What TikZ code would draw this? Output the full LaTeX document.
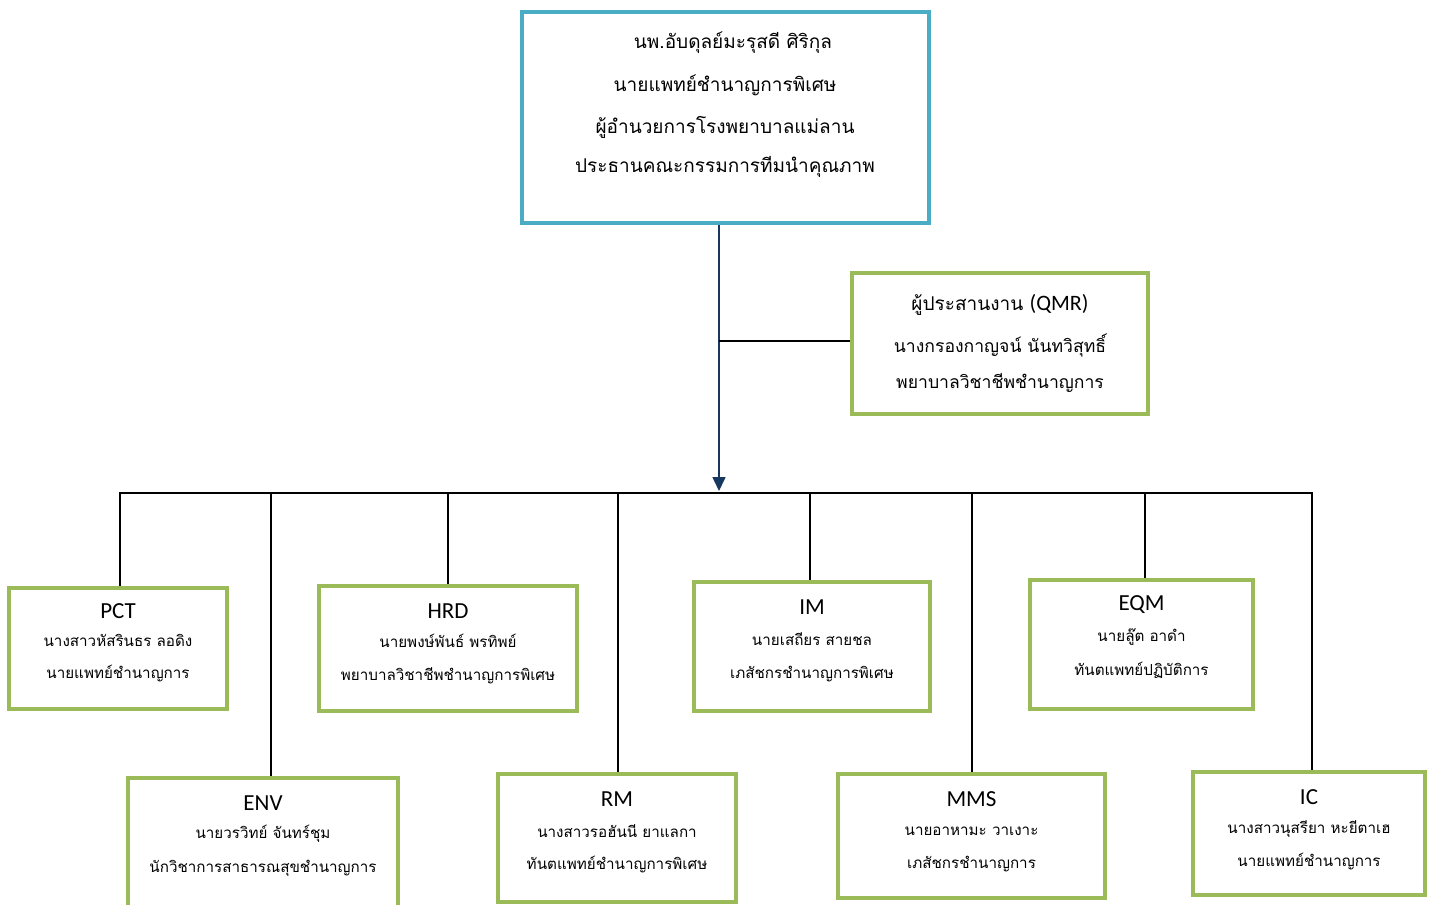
\documentclass[tikz,border=0pt]{standalone}
\usepackage{fontspec}
\usetikzlibrary{arrows.meta,calc}
\setmainfont{Carlito}
\newfontfamily\thai[Script=Thai]{Loma}
\definecolor{topblue}{HTML}{4BACC6}
\definecolor{boxgreen}{HTML}{9BBB59}
\definecolor{navy}{HTML}{17375E}
\begin{document}
\begin{tikzpicture}[x=1pt,y=-1pt,
  topbox/.style={draw=topblue,line width=4pt,fill=white,inner sep=0pt},
  gbox/.style={draw=boxgreen,line width=4pt,fill=white,inner sep=0pt},
  bigthai/.style={inner sep=0pt,font=\thai\fontsize{19}{23}\selectfont},
  midthai/.style={inner sep=0pt,font=\thai\fontsize{17.6}{21}\selectfont},
  smallthai/.style={inner sep=0pt,font=\thai\fontsize{15.2}{18}\selectfont},
  acr/.style={inner sep=0pt,font=\fontsize{23}{27}\selectfont},
  conn/.style={line width=1.6pt,black},
]
\useasboundingbox (0,0) rectangle (1433,905);
\fill[white] (0,0) rectangle (1433,905);

% boxes
\node[topbox,minimum width=407pt,minimum height=211pt] (top) at (725.5,117.5) {};
\node[gbox,minimum width=296pt,minimum height=141pt] (qmr) at (1000,343.5) {};
\node[gbox,minimum width=218pt,minimum height=121pt] (pct) at (118,648.5) {};
\node[gbox,minimum width=258pt,minimum height=125pt] (hrd) at (448,648.5) {};
\node[gbox,minimum width=236pt,minimum height=129pt] (im) at (812,646.5) {};
\node[gbox,minimum width=223pt,minimum height=129pt] (eqm) at (1141.5,644.5) {};
\node[gbox,minimum width=270pt,minimum height=132pt] (env) at (263,844) {};
\node[gbox,minimum width=238pt,minimum height=128pt] (rm) at (617,838) {};
\node[gbox,minimum width=267pt,minimum height=124pt] (mms) at (971.5,836) {};
\node[gbox,minimum width=232pt,minimum height=123pt] (ic) at (1309,833.5) {};

% top text
\node[bigthai] (t1) at (733,43) {นพ.อับดุลย์มะรุสดี ศิริกุล};
\node[bigthai] (t2) at (725,85) {นายแพทย์ชำนาญการพิเศษ};
\node[bigthai] (t3) at (725,127) {ผู้อำนวยการโรงพยาบาลแม่ลาน};
\node[bigthai] (t4) at (725,167) {ประธานคณะกรรมการทีมนำคุณภาพ};

% QMR text
\node[bigthai] (q1) at (1000,305) {ผู้ประสานงาน {\fontspec{Carlito}\fontsize{22}{26}\selectfont(QMR)}};
\node[midthai] (q2) at (1000,345) {นางกรองกาญจน์ นันทวิสุทธิ์};
\node[midthai] (q3) at (1000,383) {พยาบาลวิชาชีพชำนาญการ};

% lower texts
\node[acr] (pa) at (118,611) {PCT};
\node[smallthai] (pb) at (118,640) {นางสาวหัสรินธร ลอดิง};
\node[smallthai] (pc) at (118,674) {นายแพทย์ชำนาญการ};

\node[acr] (ha) at (448,611) {HRD};
\node[smallthai] (hb) at (448,641) {นายพงษ์พันธ์ พรทิพย์};
\node[smallthai] (hc) at (448,676) {พยาบาลวิชาชีพชำนาญการพิเศษ};

\node[acr] (ia) at (812,607) {IM};
\node[smallthai] (ib) at (812,639) {นายเสถียร สายชล};
\node[smallthai] (ic2) at (812,674) {เภสัชกรชำนาญการพิเศษ};

\node[acr] (ea) at (1141.5,605) {EQM};
\node[smallthai] (eb) at (1141.5,637) {นายลู๊ต อาดำ};
\node[smallthai] (ec) at (1141.5,670) {ทันตแพทย์ปฏิบัติการ};

\node[acr] (na) at (263,803) {ENV};
\node[smallthai] (nb) at (263,834) {นายวรวิทย์ จันทร์ชุม};
\node[smallthai] (nc) at (263,868) {นักวิชาการสาธารณสุขชำนาญการ};

\node[acr] (ra) at (617,799) {RM};
\node[smallthai] (rb) at (617,831) {นางสาวรอฮันนี ยาแลกา};
\node[smallthai] (rc) at (617,865) {ทันตแพทย์ชำนาญการพิเศษ};

\node[acr] (ma) at (971.5,799) {MMS};
\node[smallthai] (mb) at (971.5,831) {นายอาหามะ วาเงาะ};
\node[smallthai] (mc) at (971.5,864) {เภสัชกรชำนาญการ};

\node[acr] (ca) at (1309,797) {IC};
\node[smallthai] (cb) at (1309,829) {นางสาวนุสรียา หะยีตาเฮ};
\node[smallthai] (cc) at (1309,862) {นายแพทย์ชำนาญการ};

% connectors
\coordinate (arr) at (719,491);
\coordinate (mid) at (719,341);
\coordinate (busL) at (119,493);
\coordinate (busR) at (1313,493);
\draw[line width=1.6pt,navy,-{Triangle[length=14pt,width=13pt]}] (arr |- top.south) -- (arr);
\draw[line width=1.6pt,black] (mid) -- (mid -| qmr.west);
\draw[conn] (busL) -- (busR);
\foreach \n/\x in {pct/120,env/271,hrd/448,rm/618,im/810,mms/972,eqm/1145,ic/1312}{
  \coordinate (b\n) at (\x,493);
  \draw[conn] (b\n) -- (b\n |- \n.north);
}
\end{tikzpicture}
\end{document}
